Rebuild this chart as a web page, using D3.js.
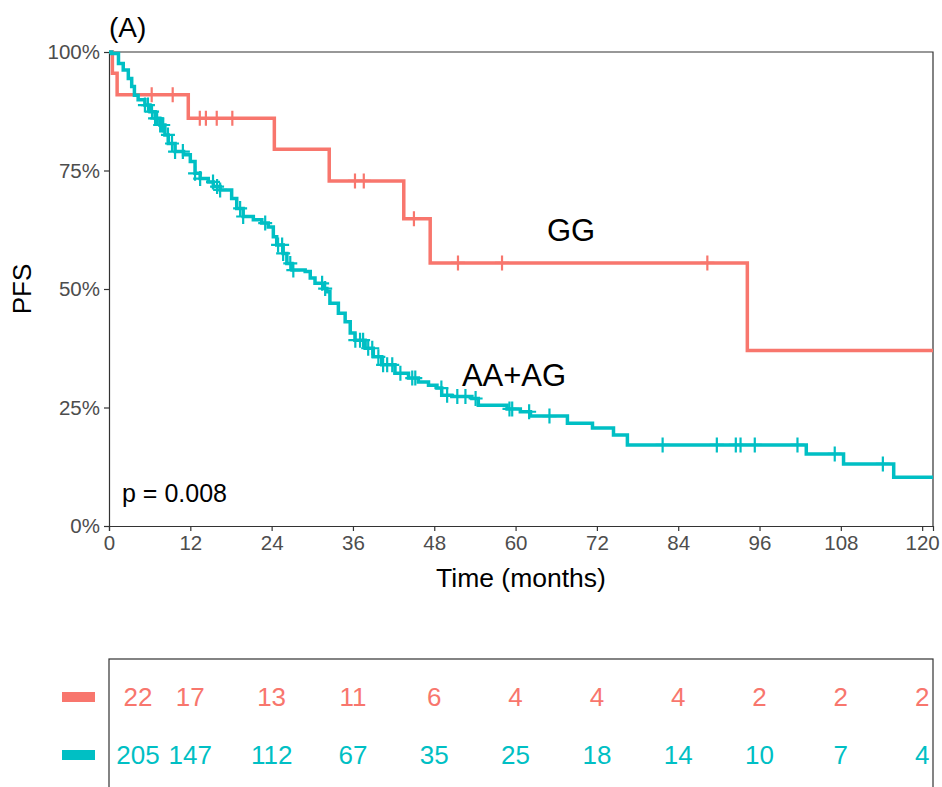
<!DOCTYPE html>
<html>
<head>
<meta charset="utf-8">
<script src="https://cdn.jsdelivr.net/npm/d3@7"></script>
<style>
  html, body { margin: 0; padding: 0; background: #fff; }
  svg { display: block; font-family: "Liberation Sans", Arial, sans-serif; }
</style>
</head>
<body>
<svg id="chart" width="942" height="787"></svg>
<script>
// Month breaks for the time axis and the numbers-at-risk table
const timeBreaks = [0, 12, 24, 36, 48, 60, 72, 84, 96, 108, 120];
const survBreaks = [0, 0.25, 0.5, 0.75, 1];
const groupNames = ["GG", "AA+AG"];
const groupColors = ["#F8766D", "#00BFC4"];

// GG stratum: times where survival steps down, and the level after each step
const ggTimes = [0, 0.5, 1.2, 11.7, 24.4, 32.5, 43.5, 47.4, 94.2];
const ggSurv  = [1, 0.955, 0.91, 0.86, 0.795, 0.728, 0.648, 0.555, 0.37];
const ggCensor = [6.3, 9.4, 13.4, 14.3, 15.9, 18.2, 36.3, 37.6, 45.0, 51.5, 58.0, 88.3];

// AA+AG stratum
const aaTimes = [0, 0.4, 1.4, 2.1, 2.85, 3.35, 3.75, 4.3, 5.3, 6.05, 6.8, 7.5, 8.25, 8.75,
  9.75, 11.0, 12.0, 12.7, 13.45, 14.65, 15.4, 16.4, 18.1, 18.85, 19.8, 21.3, 22.55, 23.5,
  24.25, 24.75, 25.7, 26.25, 27.0, 28.95, 29.7, 30.4, 31.65, 32.15, 32.6, 33.85, 34.85,
  35.6, 36.3, 37.8, 39.0, 40.25, 42.2, 44.2, 45.65, 47.15, 48.4, 49.1, 50.6, 53.55, 54.5,
  58.75, 60.7, 62.2, 67.65, 71.35, 74.45, 76.5, 102.9, 108.4, 115.8];
const aaSurv = [1, 0.997, 0.976, 0.962, 0.944, 0.927, 0.909, 0.899, 0.888, 0.874, 0.86, 0.846,
  0.825, 0.807, 0.79, 0.783, 0.769, 0.744, 0.733, 0.726, 0.716, 0.709, 0.691, 0.67, 0.653,
  0.646, 0.639, 0.631, 0.61, 0.593, 0.575, 0.554, 0.54, 0.537, 0.523, 0.512, 0.501, 0.494,
  0.47, 0.449, 0.431, 0.407, 0.392, 0.375, 0.357, 0.34, 0.322, 0.312, 0.304, 0.297, 0.291,
  0.276, 0.273, 0.269, 0.255, 0.247, 0.241, 0.232, 0.217, 0.207, 0.192, 0.171, 0.152, 0.131,
  0.103];
const aaCensor = [5.3, 5.75, 6.35, 6.8, 7.1, 7.55, 7.8, 8.0, 8.7, 9.3, 9.75, 10.9, 12.7, 13.45,
  15.35, 15.95, 16.4, 19.35, 19.8, 23.05, 24.95, 25.55, 25.7, 26.75, 27.2, 31.45, 31.9, 36.35,
  37.05, 37.5, 38.25, 38.85, 39.75, 40.45, 41.05, 41.8, 43.0, 44.75, 45.2, 49.05, 49.9, 51.4,
  52.6, 54.1, 59.1, 59.5, 62.0, 65.0, 81.7, 89.7, 92.5, 93.2, 95.3, 101.6, 107.1, 114.2];

// Numbers at risk at each time break
const riskGG = [22, 17, 13, 11, 6, 4, 4, 4, 2, 2, 2];
const riskAA = [205, 147, 112, 67, 35, 25, 18, 14, 10, 7, 4];

const pLabel = "p = 0.008";
const xLimit = 121.6;

const svg = d3.select("#chart");
const panel = { left: 109, right: 933, top: 52, bottom: 526 };

const x = d3.scaleLinear().domain([0, xLimit]).range([panel.left, panel.right]);
const y = d3.scaleLinear().domain([0, 1]).range([panel.bottom, panel.top]);

const strata = [
  { name: groupNames[0], color: groupColors[0], times: ggTimes, surv: ggSurv, censor: ggCensor, risk: riskGG },
  { name: groupNames[1], color: groupColors[1], times: aaTimes, surv: aaSurv, censor: aaCensor, risk: riskAA }
];

// Survival level in effect at time t
function survAt(s, t) {
  const i = d3.bisectRight(s.times, t) - 1;
  return s.surv[Math.max(0, i)];
}

// Axes
const xAxis = d3.axisBottom(x).tickValues(timeBreaks).tickSize(5).tickPadding(4).tickFormat(d3.format("d"));
const yAxis = d3.axisLeft(y).tickValues(survBreaks).tickSize(5).tickPadding(4).tickFormat(d3.format(".0%"));

const gx = svg.append("g").attr("transform", `translate(0,${panel.bottom})`).call(xAxis);
const gy = svg.append("g").attr("transform", `translate(${panel.left},0)`).call(yAxis);
[gx, gy].forEach(g => {
  g.select(".domain").attr("stroke", "#333").attr("stroke-width", 1.2);
  g.selectAll(".tick line").attr("stroke", "#333").attr("stroke-width", 1.2);
  g.selectAll(".tick text").attr("fill", "#4D4D4D").attr("font-size", 20.5)
    .attr("font-family", "'Liberation Sans', Arial, sans-serif");
});

// Top and right border of the panel
svg.append("path")
  .attr("d", `M${panel.left},${panel.top}H${panel.right}V${panel.bottom}`)
  .attr("fill", "none").attr("stroke", "#333").attr("stroke-width", 1.2);

// Survival curves
const line = d3.line().x(d => x(d[0])).y(d => y(d[1])).curve(d3.curveStepAfter);
strata.forEach(s => {
  const pts = s.times.map((t, i) => [t, s.surv[i]]);
  pts.push([xLimit, s.surv[s.surv.length - 1]]);
  svg.append("path").datum(pts)
    .attr("d", line)
    .attr("fill", "none")
    .attr("stroke", s.color)
    .attr("stroke-width", 3.5)
    .attr("stroke-linejoin", "miter");
});

// Censoring marks
strata.forEach(s => {
  svg.append("g").selectAll("path").data(s.censor).join("path")
    .attr("transform", d => `translate(${x(d)},${y(survAt(s, d))})`)
    .attr("d", "M-7,0H7M0,-7.5V7.5")
    .attr("stroke", s.color)
    .attr("stroke-width", 2.2)
    .attr("fill", "none");
});

// Curve labels
svg.append("text").attr("x", 571).attr("y", 241).attr("text-anchor", "middle")
  .attr("font-size", 31).attr("fill", "#000").text(groupNames[0]);
svg.append("text").attr("x", 514).attr("y", 386).attr("text-anchor", "middle")
  .attr("font-size", 31).attr("fill", "#000").text(groupNames[1]);

// p-value
svg.append("text").attr("x", 122).attr("y", 502).attr("font-size", 25).attr("fill", "#000").text(pLabel);

// Titles
svg.append("text").attr("x", 109).attr("y", 37).attr("font-size", 28).attr("fill", "#000").text("(A)");
svg.append("text").attr("transform", `translate(31,${(panel.top + panel.bottom) / 2}) rotate(-90)`)
  .attr("text-anchor", "middle").attr("font-size", 26).attr("fill", "#000").text("PFS");
svg.append("text").attr("x", (panel.left + panel.right) / 2).attr("y", 587)
  .attr("text-anchor", "middle").attr("font-size", 26.5).attr("fill", "#000").text("Time (months)");

// Numbers-at-risk table
const table = { top: 659, bottom: 800 };
svg.append("rect")
  .attr("x", panel.left).attr("y", table.top)
  .attr("width", panel.right - panel.left).attr("height", table.bottom - table.top)
  .attr("fill", "none").attr("stroke", "#333").attr("stroke-width", 1.2);

const rowY = [697, 755];
strata.forEach((s, r) => {
  svg.append("rect").attr("x", 62).attr("y", rowY[r] - 5).attr("width", 33).attr("height", 10)
    .attr("fill", s.color);
  svg.append("g").selectAll("text").data(s.risk).join("text")
    .attr("x", (d, i) => Math.max(x(timeBreaks[i]), panel.left + 29))
    .attr("y", rowY[r]).attr("dy", "0.36em")
    .attr("text-anchor", "middle")
    .attr("font-size", 26)
    .attr("fill", s.color)
    .text(d => d);
});
</script>
</body>
</html>
